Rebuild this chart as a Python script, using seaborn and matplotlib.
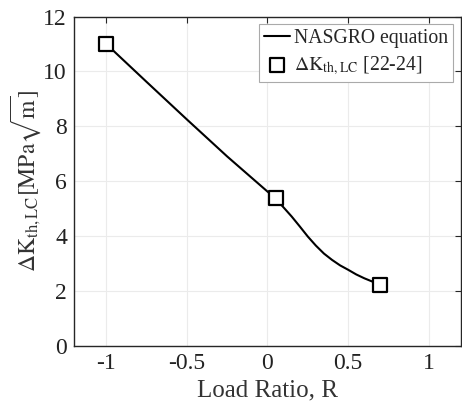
import numpy as np
import pandas as pd
import seaborn as sns
import matplotlib
matplotlib.use("Agg")
import matplotlib.pyplot as plt

# NASGRO curve
r_curve = [-1.0, -0.75, -0.5, -0.25, 0.0, 0.05, 0.1, 0.15, 0.2, 0.25, 0.3, 0.35,
           0.4, 0.45, 0.5, 0.55, 0.6, 0.65, 0.7]
k_curve = [11.0, 9.62, 8.25, 6.9, 5.62, 5.37, 5.04, 4.71, 4.35, 3.98, 3.65, 3.36,
           3.13, 2.93, 2.77, 2.6, 2.46, 2.34, 2.22]

# experimental points [22-24]
r_exp = [-1.0, 0.05, 0.7]
k_exp = [11.0, 5.37, 2.22]

x_ticks = [-1, -0.5, 0, 0.5, 1]
x_tick_labels = ['-1', '-0.5', '0', '0.5', '1']
y_ticks = [0, 2, 4, 6, 8, 10, 12]

sns.set_theme(style='whitegrid')
plt.rcParams['font.family'] = ['Liberation Serif', 'DejaVu Serif']
plt.rcParams['mathtext.fontset'] = 'stix'

curve_df = pd.DataFrame({'R': r_curve, 'K': k_curve})
exp_df = pd.DataFrame({'R': r_exp, 'K': k_exp})

fig = plt.figure(figsize=(4.62, 4.03), dpi=100)
ax = fig.add_axes([0.160, 0.142, 0.838, 0.817])

sns.lineplot(data=curve_df, x='R', y='K', ax=ax, color='black', linewidth=1.5,
             label='NASGRO equation', sort=False)
sns.scatterplot(data=exp_df, x='R', y='K', ax=ax, marker='s', s=95,
                facecolor='white', edgecolor='black', linewidth=1.6, zorder=5,
                label=r'$\Delta\mathrm{K}_{\mathrm{th,LC}}$ [22-24]')

ax.set_xlim(-1.2, 1.2)
ax.set_ylim(0, 12)
ax.set_xticks(x_ticks)
ax.set_xticklabels(x_tick_labels)
ax.set_yticks(y_ticks)
ax.tick_params(axis='both', labelsize=17, labelcolor='#222222', direction='in',
               length=4, width=0.8, color='#262626', top=True, right=True, pad=5)
ax.grid(True, color='#ebebeb', linewidth=0.8)
for sp in ax.spines.values():
    sp.set_color('#262626')
    sp.set_linewidth(1.0)

ax.set_xlabel('Load Ratio, R', fontsize=18, color='#333333', labelpad=4)
ax.set_ylabel(r'$\Delta\mathrm{K}_{\mathrm{th,LC}}[\mathrm{MPa}\sqrt{\mathrm{m}}]$',
              fontsize=17, color='#333333', labelpad=0)

leg = ax.legend(loc='upper right', fontsize=14.2, handlelength=1.35, handletextpad=0.2,
                borderpad=0.25, labelspacing=0.3, fancybox=False, framealpha=1,
                borderaxespad=0.4)
leg.get_frame().set_edgecolor('#aaaaaa')
leg.get_frame().set_linewidth(0.8)

fig.savefig('out.png', dpi=100)
